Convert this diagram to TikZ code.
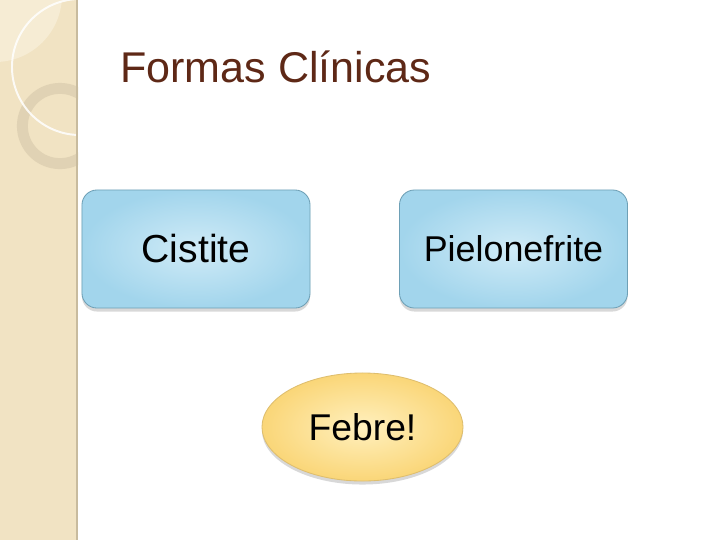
\documentclass[tikz,border=0pt]{standalone}
\usepackage{fontspec}
\setmainfont{Liberation Sans}
\usetikzlibrary{shapes.geometric,shadows}
\definecolor{sidebeige}{RGB}{241,227,195}
\definecolor{sidelight}{RGB}{246,236,212}
\definecolor{sideedge}{RGB}{200,187,158}
\definecolor{ringtone}{RGB}{222,208,178}
\definecolor{titlebrown}{RGB}{94,40,22}
\definecolor{boxinner}{RGB}{208,235,247}
\definecolor{boxouter}{RGB}{162,213,236}
\definecolor{boxline}{RGB}{110,160,182}
\definecolor{ovalinner}{RGB}{255,240,190}
\definecolor{ovalouter}{RGB}{250,214,120}
\definecolor{ovalline}{RGB}{222,190,110}

\begin{document}
\begin{tikzpicture}[x=0.025cm, y=-0.025cm,
  formbox/.style={rounded corners=0.375cm, draw=boxline, line width=0.6pt,
    shading=radial, inner color=boxinner, outer color=boxouter,
    minimum width=5.7cm, minimum height=2.95cm,
    drop shadow={shadow xshift=0pt, shadow yshift=-2.5pt, opacity=0.3},
    font=\fontsize{25.5}{30}\selectfont},
  febreoval/.style={ellipse, draw=ovalline, line width=0.6pt,
    shading=radial, inner color=ovalinner, outer color=ovalouter,
    minimum width=5.025cm, minimum height=2.7cm, inner sep=0pt,
    drop shadow={shadow xshift=0pt, shadow yshift=-2.5pt, opacity=0.3},
    font=\fontsize{26.5}{30}\selectfont}]
\useasboundingbox[fill=white] (0,0) rectangle (720,540);
% Sidebar
\begin{scope}
  \clip (0,0) rectangle (78,540);
  \fill[sidebeige] (0,0) rectangle (78,540);
  \fill[sidelight] (-5,-5) circle (1.675cm);
  \draw[ringtone, opacity=0.85, line width=7.8pt] (60,126) circle (0.94cm);
  \draw[white, line width=1.4pt, opacity=0.85] (80,67) circle (1.7cm);
\end{scope}
\draw[sideedge, line width=1.6pt] (77,0) -- (77,540);
% Title
\node[anchor=base west, text=titlebrown, font=\fontsize{30.6}{36}\selectfont, inner sep=0pt]
  (title) at (120,82) {Formas Clínicas};
% Boxes
\node[formbox, font=\fontsize{27.8}{32}\selectfont] (cistite) at (196,249) {Cistite};
\node[formbox] (pielo) at (513.5,249) {Pielonefrite};
% Oval
\node[febreoval] (febre) at (362.5,427) {Febre!};
\end{tikzpicture}
\end{document}
